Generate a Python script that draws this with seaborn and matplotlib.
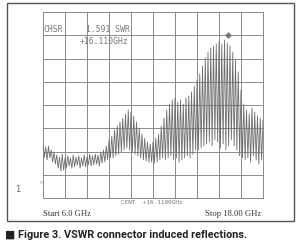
import numpy as np
import pandas as pd
import matplotlib
matplotlib.use("Agg")
import matplotlib.pyplot as plt
from matplotlib.patches import Rectangle
import seaborn as sns

# ---- data (SWR, one value per ripple peak / trough) ----
start_ghz = 6.0
stop_ghz = 18.0
marker_ghz = 16.11
marker_swr = 1.591

peaks = [1.213, 1.207, 1.210, 1.196, 1.189,
         1.179, 1.172, 1.182, 1.169,
         1.176, 1.169, 1.179, 1.172, 1.176, 1.169, 1.179, 1.172, 1.182,
         1.176, 1.182, 1.179, 1.189, 1.196,
         1.210, 1.231, 1.244, 1.265, 1.279, 1.293,
         1.306, 1.320, 1.334, 1.327, 1.313,
         1.293, 1.272, 1.251, 1.237, 1.224,
         1.217, 1.224, 1.237, 1.251,
         1.279, 1.306, 1.334, 1.354, 1.368,
         1.375, 1.361, 1.368, 1.354, 1.375, 1.382, 1.396, 1.416,
         1.437, 1.458, 1.485, 1.513, 1.533, 1.547, 1.554,
         1.561, 1.568, 1.561, 1.575, 1.564, 1.554, 1.533, 1.506, 1.465,
         1.403, 1.354, 1.334, 1.320, 1.341, 1.327, 1.313, 1.306, 1.299]

troughs = [1.172, 1.162, 1.169, 1.155, 1.148,
           1.134, 1.124, 1.127, 1.134,
           1.141, 1.134, 1.138, 1.145, 1.134, 1.141, 1.138, 1.145, 1.141,
           1.145, 1.148, 1.141, 1.151, 1.155,
           1.162, 1.169, 1.169, 1.176, 1.182, 1.189,
           1.196, 1.203, 1.196, 1.189, 1.182,
           1.176, 1.169, 1.162, 1.158, 1.155,
           1.155, 1.151, 1.155, 1.162,
           1.169, 1.162, 1.169, 1.176, 1.162,
           1.169, 1.155, 1.162, 1.169, 1.176, 1.169, 1.182, 1.196,
           1.196, 1.203, 1.210, 1.217, 1.224, 1.210, 1.231,
           1.224, 1.203, 1.217, 1.196, 1.210, 1.231, 1.210, 1.196, 1.176,
           1.169, 1.162, 1.169, 1.155, 1.176, 1.162, 1.148, 1.162]

swr_bottom = 1.031
swr_per_div = 0.08
n_xdiv = 10
n_ydiv = 8

# ---- build the trace table ----
trace = []
for i, p in enumerate(peaks):
    trace.append(p)
    if i < len(troughs):
        trace.append(troughs[i])
freq = np.linspace(start_ghz, stop_ghz, len(trace))
df = pd.DataFrame({"freq": freq, "swr": trace})

sns.set_style("white")
fig = plt.figure(figsize=(3.0, 2.48), dpi=100)
ax = fig.add_axes([43 / 300, 50 / 248, 220 / 300, 186 / 248])

sns.lineplot(data=df, x="freq", y="swr", ax=ax, color="#6e6e6e",
             linewidth=0.6, zorder=3)

ymax = swr_bottom + n_ydiv * swr_per_div
ax.set_xlim(start_ghz, stop_ghz)
ax.set_ylim(swr_bottom, ymax)
ax.set_xticks(np.linspace(start_ghz, stop_ghz, n_xdiv + 1))
ax.set_yticks(np.linspace(swr_bottom, ymax, n_ydiv + 1))
ax.grid(True, color="#8a8a8a", linewidth=0.7)
ax.tick_params(left=False, bottom=False, labelleft=False, labelbottom=False)
ax.set_xlabel("")
ax.set_ylabel("")
for s in ax.spines.values():
    s.set_color("#8a8a8a")
    s.set_linewidth(0.7)

ax.plot([marker_ghz], [marker_swr], marker="D", markersize=2.5,
        color="#777777", zorder=4)

# ---- texts ----
mono = dict(family="DejaVu Sans Mono", color="#777777")
fig.text(43 / 300, 1 - 30 / 248, "CHSR", fontsize=5.8, va="center", **mono)
fig.text(86 / 300, 1 - 30 / 248, "1.591 SWR", fontsize=5.8, va="center", **mono)
fig.text(80 / 300, 1 - 41 / 248, "+16.110GHz", fontsize=5.8, va="center", **mono)
fig.text(152 / 300, 1 - 203 / 248, "CENT  +16.1100GHz", fontsize=4.3,
         va="center", ha="center", **mono)
fig.text(41 / 300, 1 - 182 / 248, ">", fontsize=3.5, va="center", ha="center", **mono)
fig.text(18 / 300, 1 - 190 / 248, "1", fontsize=6, va="center", ha="center",
         color="#666666")

serif = dict(family="Liberation Serif", color="#333333", fontsize=6.2)
fig.text(43 / 300, 1 - 214 / 248, "Start 6.0 GHz", va="center", ha="left", **serif)
fig.text(261 / 300, 1 - 214 / 248, "Stop 18.00 GHz", va="center", ha="right", **serif)

fig.text(5 / 300, 1 - 235 / 248, "\u25A0 Figure 3. VSWR connector induced reflections.",
         family=["Roboto", "DejaVu Sans"], fontweight="bold",
         fontsize=7.8, color="#222222", va="center", ha="left")

fig.patches.append(Rectangle((7 / 300, 27 / 248), 287 / 300, 218 / 248,
                             transform=fig.transFigure, fill=False,
                             edgecolor="#555555", linewidth=1.0))

fig.savefig("out.png", dpi=100)
